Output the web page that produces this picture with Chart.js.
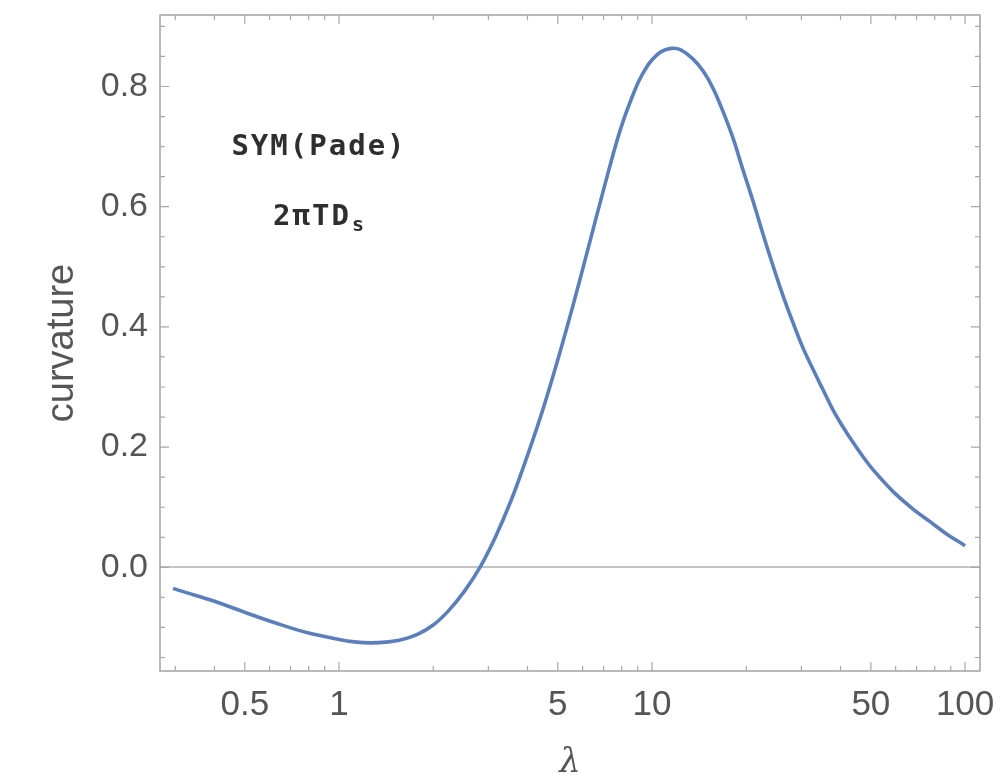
<!DOCTYPE html>
<html lang="en">
  <head>
    <meta charset="UTF-8" />
    <title>curvature vs lambda</title>
    <style>
      html, body { margin: 0; padding: 0; background: #fff; }
    </style>
  </head>

  <body>
    <script src="https://cdn.jsdelivr.net/npm/chart.js"></script>
    <canvas id="curve-chart" width="1000" height="784"></canvas>

    <script>
      // values
      const lambdaVals = [0.295, 0.316, 0.398, 0.501, 0.631, 0.794, 1, 1.12, 1.26, 1.41, 1.58, 1.78, 2, 2.24, 2.51,
        2.82, 3.16, 3.55, 3.98, 4.47, 5.01, 5.62, 6.31, 7.08, 7.94, 8.91, 9.5, 10, 10.7, 11.5, 12.3, 13.5, 14.6,
        15.7, 16.9, 18.2, 19.5, 21, 22.6, 24.4, 26.2, 28.2, 30.3, 32.7, 35.2, 37.8, 40.7, 43.9, 47.2, 50.8, 58.9,
        68.2, 77.3, 87.5, 100]
      const curvature = [-0.035, -0.04, -0.056, -0.075, -0.093, -0.109, -0.12, -0.124, -0.1257, -0.1245, -0.1205,
        -0.1115, -0.096, -0.072, -0.0405, 0, 0.0505, 0.112, 0.183, 0.261, 0.347, 0.44, 0.539, 0.638, 0.73, 0.8,
        0.828, 0.8445, 0.858, 0.8635, 0.8615, 0.846, 0.825, 0.796, 0.757, 0.712, 0.662, 0.61, 0.555, 0.5, 0.452,
        0.407, 0.366, 0.329, 0.295, 0.2625, 0.234, 0.2075, 0.184, 0.1625, 0.126, 0.097, 0.076, 0.055, 0.036]

      const xTickVals = [0.5, 1, 5, 10, 50, 100]
      const xMinorVals = [0.3, 0.4, 0.6, 0.7, 0.8, 0.9, 2, 3, 4, 6, 7, 8, 9, 20, 30, 40, 60, 70, 80, 90]
      const yTickVals = [0, 0.2, 0.4, 0.6, 0.8]
      const yMinorVals = [-0.15, -0.1, -0.05, 0.05, 0.1, 0.15, 0.25, 0.3, 0.35, 0.45, 0.5, 0.55, 0.65, 0.7, 0.75, 0.85, 0.9]

      const noteLines = ['SYM(Pade)', '2\u03c0TD']
      const noteSub = 's'

      const frameColor = '#a8a8a8'
      const labelColor = '#555555'

      // Mathematica-like frame with inward ticks on all four sides
      const framePlugin = {
        id: 'frame',
        afterDatasetsDraw(chart) {
          const { ctx, chartArea: a, scales: { x, y } } = chart
          ctx.save()
          ctx.strokeStyle = frameColor
          ctx.lineWidth = 1.6
          ctx.strokeRect(a.left, a.top, a.right - a.left, a.bottom - a.top)
          ctx.lineWidth = 1.2
          const xt = (v, len) => {
            const px = x.getPixelForValue(v)
            ctx.beginPath()
            ctx.moveTo(px, a.bottom); ctx.lineTo(px, a.bottom - len)
            ctx.moveTo(px, a.top); ctx.lineTo(px, a.top + len)
            ctx.stroke()
          }
          const yt = (v, len) => {
            const py = y.getPixelForValue(v)
            ctx.beginPath()
            ctx.moveTo(a.left, py); ctx.lineTo(a.left + len, py)
            ctx.moveTo(a.right, py); ctx.lineTo(a.right - len, py)
            ctx.stroke()
          }
          xTickVals.forEach((v) => xt(v, 9))
          xMinorVals.forEach((v) => xt(v, 5))
          yTickVals.forEach((v) => yt(v, 9))
          yMinorVals.forEach((v) => yt(v, 5))
          ctx.restore()
        },
      }

      const notePlugin = {
        id: 'notes',
        afterDatasetsDraw(chart) {
          const { ctx, scales: { x, y } } = chart
          const px = x.getPixelForValue(0.863)
          const big = 'bold 29px "DejaVu Sans Mono"'
          const small = 'bold 20px "DejaVu Sans Mono"'
          ctx.save()
          ctx.fillStyle = '#2e2e2e'
          ctx.letterSpacing = '2px'
          ctx.font = big
          ctx.textAlign = 'center'
          ctx.textBaseline = 'middle'
          ctx.fillText(noteLines[0], px, y.getPixelForValue(0.699))
          const w1 = ctx.measureText(noteLines[1]).width
          ctx.font = small
          const w2 = ctx.measureText(noteSub).width
          const start = px - (w1 + w2) / 2
          const py = y.getPixelForValue(0.5825)
          ctx.textAlign = 'left'
          ctx.font = big
          ctx.fillText(noteLines[1], start, py)
          ctx.font = small
          ctx.fillText(noteSub, start + w1 + 1, py + 9)
          ctx.restore()
        },
      }

      new Chart(document.getElementById('curve-chart'), {
        type: 'line',
        data: {
          datasets: [
            {
              data: lambdaVals.map((l, i) => ({ x: l, y: curvature[i] })),
              borderColor: '#5b7fba',
              borderWidth: 3.6,
              pointRadius: 0,
              tension: 0.35,
              fill: false,
            },
          ],
        },
        options: {
          responsive: false,
          animation: false,
          layout: { padding: { top: 15, right: 20, left: 0, bottom: 0 } },
          plugins: { legend: { display: false }, tooltip: { enabled: false } },
          scales: {
            x: {
              type: 'logarithmic',
              min: 0.268,
              max: 111.6,
              afterBuildTicks: (s) => { s.ticks = xTickVals.map((v) => ({ value: v })) },
              afterFit: (s) => {
                s.height = 113
                s.paddingLeft = 0
                s.paddingRight = 0
              },
              grid: { display: false, drawTicks: false },
              border: { display: false },
              ticks: {
                color: labelColor,
                font: { family: 'Liberation Sans', size: 35 },
                padding: 13,
                autoSkip: false,
                maxRotation: 0,
                callback: (v) => String(v),
              },
              title: {
                display: true,
                text: '\u03bb',
                color: labelColor,
                font: { family: 'DejaVu Serif', size: 34, style: 'italic' },
                padding: { bottom: 0 },
              },
            },
            y: {
              min: -0.1725,
              max: 0.919,
              afterBuildTicks: (s) => { s.ticks = yTickVals.map((v) => ({ value: v })) },
              afterFit: (s) => {
                s.width = 160
                s.paddingTop = 0
                s.paddingBottom = 0
              },
              grid: {
                drawTicks: false,
                lineWidth: 2,
                color: (c) => (c.tick && c.tick.value === 0 ? '#c4c4c4' : 'rgba(0,0,0,0)'),
              },
              border: { display: false },
              ticks: {
                color: labelColor,
                font: { family: 'Liberation Sans', size: 34 },
                padding: 12,
                callback: (v) => v.toFixed(1),
              },
              title: {
                display: true,
                text: 'curvature',
                color: labelColor,
                font: { family: 'Liberation Sans', size: 38 },
                padding: { top: 40 },
              },
            },
          },
        },
        plugins: [framePlugin, notePlugin],
      })
    </script>
  </body>
</html>
